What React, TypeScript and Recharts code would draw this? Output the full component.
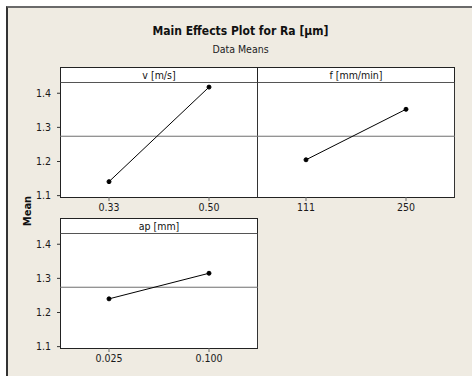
import React from 'react';
import { LineChart, Line, XAxis, YAxis, ReferenceLine } from 'recharts';

const vLevels = ['0.33', '0.50'];
const vMeans = [1.141, 1.418];
const fLevels = ['111', '250'];
const fMeans = [1.205, 1.353];
const apLevels = ['0.025', '0.100'];
const apMeans = [1.24, 1.315];
const grandMean = 1.274;
const yTicks = [1.1, 1.2, 1.3, 1.4];
const yDomain = [1.096, 1.43];

const FONT = '"DejaVu Sans Condensed", "DejaVu Sans", sans-serif';
const BG = '#efebe2';

const toRows = (levels: string[], means: number[]) =>
  levels.map((level, i) => ({ level, mean: means[i] }));

interface PanelProps {
  title: string;
  levels: string[];
  means: number[];
  left: number;
  top: number;
  showY: boolean;
}

// one facet: header strip + white plot box + the line chart drawn over it
const Panel: React.FC<PanelProps> = ({ title, levels, means, left, top, showY }) => {
  const axisW = showY ? 60 : 0;
  const plotW = showY ? 198 : 198;
  const chartW = axisW + plotW + 3;
  const chartLeft = showY ? left - 60 : left;
  // the right-hand facet shares its left edge with the one beside it
  const leftEdge = showY ? '1px solid #222' : 'none';
  const boxLeft = showY ? left : left + 1;
  const boxW = showY ? plotW : plotW - 1;
  return (
    <>
      <div
        style={{
          position: 'absolute', left: boxLeft, top, width: boxW, height: 16,
          boxSizing: 'border-box', background: '#fff',
          borderTop: '1px solid #222', borderRight: '1px solid #222', borderLeft: leftEdge,
          borderBottom: '1px solid #555',
          fontFamily: FONT, fontSize: 10.5, lineHeight: '14px', textAlign: 'center', color: '#111',
        }}
      >
        {title}
      </div>
      <div
        style={{
          position: 'absolute', left: boxLeft, top: top + 16, width: boxW, height: 115,
          boxSizing: 'border-box', background: '#fff',
          borderLeft: leftEdge, borderRight: '1px solid #333', borderBottom: '1px solid #222',
        }}
      />
      <div style={{ position: 'absolute', left: chartLeft, top: top + 13 }}>
        <LineChart
          width={chartW}
          height={140}
          data={toRows(levels, means)}
          margin={{ top: 3, right: 3, left: 0, bottom: 0 }}
          style={{ fontFamily: FONT }}
        >
          <XAxis
            dataKey="level"
            type="category"
            padding={{ left: 49, right: 49 }}
            axisLine={false}
            tickSize={4}
            tickMargin={3}
            height={23}
            tickLine={{ stroke: '#666' }}
            tick={{ fontSize: 10.5, fill: '#1a1a1a' }}
            interval={0}
          />
          <YAxis
            hide={!showY}
            width={axisW}
            domain={yDomain}
            ticks={yTicks}
            allowDataOverflow
            axisLine={false}
            tickSize={3}
            tickMargin={6}
            tickLine={{ stroke: '#333' }}
            tick={{ fontSize: 10.5, fill: '#1a1a1a' }}
            tickFormatter={(v: number) => v.toFixed(1)}
          />
          <ReferenceLine y={grandMean} stroke="#6f6f6f" strokeWidth={1} />
          <Line
            type="linear"
            dataKey="mean"
            stroke="#000"
            strokeWidth={1}
            dot={{ r: 2, fill: '#000', stroke: '#000', strokeWidth: 1 }}
            isAnimationActive={false}
          />
        </LineChart>
      </div>
    </>
  );
};

export default function App() {
  return (
    <div style={{ position: 'absolute', left: 0, top: 0, width: 472, height: 376, background: '#fff', overflow: 'hidden' }}>
      <div
        style={{
          position: 'absolute', left: 6, top: 6, width: 466, height: 370, background: BG,
          borderTop: '2px solid #6a6a6a', borderLeft: '2px solid #333', boxSizing: 'border-box',
        }}
      />
      <div style={{ position: 'absolute', left: 0, width: 481, top: 24, textAlign: 'center', fontFamily: FONT, fontWeight: 'bold', fontSize: 12, color: '#111' }}>
        Main Effects Plot for Ra [µm]
      </div>
      <div style={{ position: 'absolute', left: 0, width: 481, top: 43, textAlign: 'center', fontFamily: FONT, fontSize: 10.5, color: '#222' }}>
        Data Means
      </div>
      <div
        style={{
          position: 'absolute', left: 27, top: 211, transform: 'translate(-50%, -50%) rotate(-90deg)',
          fontFamily: FONT, fontWeight: 'bold', fontSize: 11, color: '#111', whiteSpace: 'nowrap',
        }}
      >
        Mean
      </div>
      <Panel title="v [m/s]" levels={vLevels} means={vMeans} left={60} top={67} showY />
      <Panel title="f [mm/min]" levels={fLevels} means={fMeans} left={257} top={67} showY={false} />
      <Panel title="ap [mm]" levels={apLevels} means={apMeans} left={60} top={218} showY />
    </div>
  );
}
